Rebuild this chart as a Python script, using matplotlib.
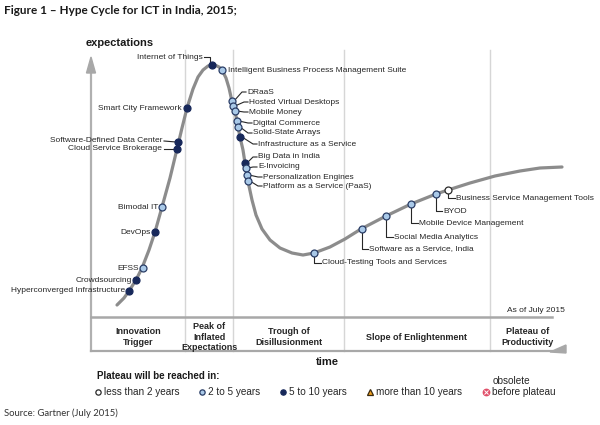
import matplotlib
matplotlib.use("Agg")
import matplotlib.pyplot as plt
from matplotlib.patches import Polygon

# hype curve (x = time, y = expectations, pixel units from top)
curve_x = [117, 124, 129, 136, 142, 149, 155, 162, 170, 177, 182, 187, 193, 198, 203, 208,
           212, 216, 219, 222, 226, 229, 231, 233, 236, 238, 240, 243, 245, 247, 249, 252,
           256, 262, 270, 280, 292, 303, 314, 330, 345, 361, 386, 411, 436, 448, 470, 495,
           520, 540, 562]
curve_y = [305, 298, 291, 280, 268, 250, 232, 207, 178, 149, 128, 108, 89, 77, 70, 66,
           65, 65.5, 67, 70, 78, 88, 97, 106, 116, 127, 137, 150, 163, 175, 186, 200,
           215, 229, 240, 248, 253, 255, 253, 247, 239, 229, 216, 204, 194, 190, 183, 176,
           171, 168, 167]

tech_names = ["Hyperconverged Infrastructure", "Crowdsourcing", "EFSS", "DevOps", "Bimodal IT",
              "Cloud Service Brokerage", "Software-Defined Data Center", "Smart City Framework",
              "Internet of Things", "Intelligent Business Process Management Suite", "DRaaS",
              "Hosted Virtual Desktops", "Mobile Money", "Digital Commerce", "Solid-State Arrays",
              "Infrastructure as a Service", "Big Data in India", "E-Invoicing",
              "Personalization Engines", "Platform as a Service (PaaS)",
              "Cloud-Testing Tools and Services", "Software as a Service, India",
              "Social Media Analytics", "Mobile Device Management", "BYOD",
              "Business Service Management Tools"]
tech_x = [129, 136, 143, 155, 162, 177, 178, 187, 212, 222, 232, 233, 235, 237, 238, 240,
          245, 246, 247, 248, 314, 362, 386, 411, 436, 448]
tech_y = [291, 280, 268, 232, 207, 149, 142, 108, 65, 70, 101, 106, 111, 121, 127, 137,
          163, 168, 175, 181, 253, 229, 216, 204, 194, 190]
tech_class = ["5-10", "5-10", "2-5", "5-10", "2-5", "5-10", "5-10", "5-10", "5-10", "2-5",
              "2-5", "2-5", "2-5", "2-5", "2-5", "5-10", "5-10", "2-5", "2-5", "2-5",
              "2-5", "2-5", "2-5", "2-5", "2-5", "<2"]

phase_names = ["Innovation\nTrigger", "Peak of\nInflated\nExpectations", "Trough of\nDisillusionment",
               "Slope of Enlightenment", "Plateau of\nProductivity"]
legend_names = ["less than 2 years", "2 to 5 years", "5 to 10 years", "more than 10 years"]

# label layout: (text x, text y, side, leader kind)
label_pos = [(125, 291, "r", None), (132, 280, "r", None), (139, 268, "r", None),
             (151, 232, "r", None), (158, 207, "r", None), (162, 149, "r", "dash"),
             (162, 141, "r", "dash"), (182, 108, "r", None), (203, 57, "r", "hook"),
             (228, 70, "l", None), (247, 92, "l", "slant"), (249, 102, "l", "slant"),
             (249, 112, "l", "slant"), (253, 123, "l", "slant"), (253, 133, "l", "slant"),
             (258, 144, "l", "slant"), (258, 157, "l", "slant"), (258, 167, "l", "slant"),
             (263, 177, "l", "slant"), (263, 186, "l", "slant"),
             (322, 263, "l", "L"), (369, 249, "l", "L"), (394, 237, "l", "L"),
             (419, 223, "l", "L"), (443, 211, "l", "L"), (456, 198, "l", "L")]

style = {"<2": ("white", "#2a2a2a"), "2-5": ("#a9c9e8", "#2a3d66"),
         "5-10": ("#17285a", "#17285a")}

LF = "Liberation Sans"
TXT = "#262626"

fig = plt.figure(figsize=(6, 4.25), dpi=100)
ax = fig.add_axes([0, 0, 1, 1])
ax.set_xlim(0, 600)
ax.set_ylim(425, 0)
ax.axis("off")

# phase dividers
for xv in [185, 233, 344, 490]:
    ax.plot([xv, xv], [50, 351], color="#d6d6d6", lw=1, zorder=0)

# axes frame
ax.plot([91, 91], [351, 72], color="#b0b0b0", lw=1.6, zorder=1)
ax.add_patch(Polygon([(86.5, 73), (95.5, 73), (91, 57)], closed=True, color="#a8a8a8", zorder=1))
ax.plot([91, 552], [317, 317], color="#a8a8a8", lw=1.8, zorder=1)
ax.plot([91, 552], [351, 351], color="#a8a8a8", lw=1.6, zorder=1)
ax.add_patch(Polygon([(550, 352), (566, 345), (566, 353)], closed=True, color="#a8a8a8", zorder=1))

# curve
ax.plot(curve_x, curve_y, color="#8c8c8c", lw=2.3, solid_capstyle="round",
        solid_joinstyle="round", zorder=2)

# technologies
for name, x, y, c, (tx, ty, side, lead) in zip(tech_names, tech_x, tech_y, tech_class, label_pos):
    fc, ec = style[c]
    ax.plot(x, y, "o", ms=5, mfc=fc, mec=ec, mew=0.9, zorder=4)
    if lead == "dash":
        ax.plot([tx + 2, x - 2], [ty, y], color=TXT, lw=0.8, zorder=3)
    elif lead == "hook":
        ax.plot([tx + 1, x - 2, x - 2], [ty, ty, y - 3], color=TXT, lw=0.8, zorder=3)
    elif lead == "slant":
        ax.plot([x + 2, tx - 5, tx - 1], [y, ty, ty], color=TXT, lw=0.8, zorder=3)
    elif lead == "L":
        ax.plot([x, x, tx - 1], [y + 3, ty, ty], color=TXT, lw=0.8, zorder=3)
    ax.text(tx, ty, name, fontsize=6, family=LF, color=TXT,
            ha="right" if side == "r" else "left", va="center", zorder=5)

# axis titles
ax.text(86, 43, "expectations", fontsize=8, family=LF, weight="bold", color="#1a1a1a",
        va="center", ha="left")
ax.text(327, 362, "time", fontsize=8, family=LF, weight="bold", color="#1a1a1a",
        va="center", ha="center")
ax.text(565, 311, "As of July 2015", fontsize=6, family=LF, color=TXT, va="center", ha="right")

# phase labels
for name, xc in zip(phase_names, [138, 209, 289, 417, 528]):
    ax.text(xc, 337, name, fontsize=6.5, family=LF, weight="bold", color=TXT,
            ha="center", va="center", linespacing=1.15)

# legend
ax.text(97, 376, "Plateau will be reached in:", fontsize=7, family=LF, weight="bold",
        color="#1a1a1a", va="center", ha="left")
leg_styles = [("o", "white", "#2a2a2a"), ("o", "#a9c9e8", "#2a3d66"),
              ("o", "#17285a", "#17285a"), ("^", "#f0a020", "#3a2a10")]
for name, xm, (mk, fc, ec) in zip(legend_names, [98, 202, 283, 370], leg_styles):
    ax.plot(xm, 392, mk, ms=3.8, mfc=fc, mec=ec, mew=0.9)
    ax.text(xm + 6, 392, name, fontsize=7.2, family=LF, color=TXT, va="center", ha="left")
ax.plot(486, 392, "o", ms=4.6, mfc="#e0506a", mec="#e0506a")
ax.plot(486, 392, "x", ms=2.3, mec="white", mew=0.7)
ax.text(492, 392, "before plateau", fontsize=7.2, family=LF, color=TXT, va="center", ha="left")
ax.text(493, 381, "obsolete", fontsize=7.2, family=LF, color=TXT, va="center", ha="left")

# figure title and source
ax.text(4, 10, "Figure 1 \u2013 Hype Cycle for ICT in India, 2015;", fontsize=8.5, family="Lato",
        weight="bold", color="#1a1a1a", va="center", ha="left")
ax.text(4, 413, "Source: Gartner (July 2015)", fontsize=6.8, family="Lato", color="#333333",
        va="center", ha="left")

fig.savefig("out.png", dpi=100)
